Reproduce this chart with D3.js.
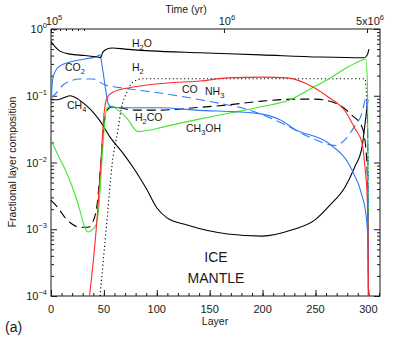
<!DOCTYPE html>
<html>
<head>
<meta charset="utf-8">
<script src="https://cdn.jsdelivr.net/npm/d3@7"></script>
<style>
  body { margin: 0; background: #fff; }
</style>
</head>
<body>
<div id="chart"></div>
<script>
// --- data: [layer, fractional composition] ---
const h2o = [[0,0.64],[4,0.54],[8,0.47],[18,0.42],[32,0.40],[44,0.38],[47,0.375],[49,0.45],[53,0.50],[58,0.52],[70,0.50],[94,0.47],[141,0.44],[198,0.41],[254,0.38],[296,0.37],[299,0.41],[300.5,0.50]];
const co2 = [[0.5,0.096],[1.4,0.17],[3.8,0.23],[8.5,0.28],[18,0.32],[32,0.355],[43.5,0.39],[46.3,0.41],[48.2,0.29],[51,0.145],[53.9,0.078],[56.7,0.068],[75,0.066],[103,0.066],[136,0.061],[193,0.055],[216,0.044],[231,0.031],[262,0.0196],[284.5,0.0077],[294,0.0032],[297.8,0.0016],[299.6,0.0007],[300.1,0.0001]];
const nh3 = [[0.5,0.093],[6.6,0.118],[11.3,0.145],[18,0.166],[27.4,0.178],[39.7,0.178],[46.3,0.16],[51,0.145],[55.8,0.14],[74.7,0.126],[103,0.11],[141,0.087],[193,0.057],[218,0.039],[247,0.023],[268.5,0.018],[278,0.022],[287,0.035],[294,0.055],[297.8,0.093],[299.2,0.043],[300.1,0.0001]];
const h2co = [[0,0.0027],[6.6,0.0021],[13.2,0.0015],[19.9,0.0012],[27.4,0.00107],[35,0.00107],[39.7,0.0013],[43.5,0.0023],[47.3,0.011],[50,0.036],[53,0.061],[57.7,0.068],[79.4,0.061],[103,0.061],[136,0.066],[167,0.073],[199.5,0.083],[230.6,0.089],[249.5,0.089],[268.5,0.078],[284.5,0.051],[294,0.034],[297.8,0.015],[299.6,0.0027],[300.1,0.0001]];
const ch4 = [[0,0.087],[6.6,0.087],[13.2,0.095],[18,0.10],[25.5,0.089],[34,0.07],[39.7,0.057],[46.3,0.042],[55.8,0.024],[68,0.0138],[81.3,0.0069],[90.7,0.0039],[100,0.0021],[109.7,0.00148],[128.6,0.00116],[167,0.00085],[199.5,0.00079],[228,0.00098],[249.5,0.00138],[263.7,0.0023],[278,0.0043],[287,0.0085],[294,0.017],[297.8,0.051],[299.6,0.087]];
const co = [[36.4,0.0001],[43.5,0.0014],[47.3,0.011],[50,0.051],[53,0.093],[58.6,0.114],[77.5,0.135],[109.7,0.155],[141,0.166],[167,0.185],[199.5,0.19],[224,0.185],[240,0.155],[262,0.096],[278,0.059],[287,0.033],[294,0.0196],[296.8,0.0085],[298.7,0.0035],[299.6,0.00098],[300.1,0.0001]];
const h2 = [[46.3,0.0001],[53,0.0014],[57.7,0.0092],[63.3,0.031],[66.2,0.061],[71.8,0.114],[77.5,0.16],[87,0.18],[296.8,0.18],[299.5,0.02],[300.1,0.0001]];
const ch3oh = [[0.5,0.021],[6.6,0.0129],[15,0.0069],[23,0.0032],[27.4,0.0019],[31.2,0.00116],[35,0.00091],[38.8,0.00098],[42.5,0.00116],[45.4,0.0023],[48.2,0.011],[51,0.043],[53,0.066],[57.7,0.07],[62.4,0.063],[71.8,0.046],[82.2,0.029],[112.5,0.036],[141,0.045],[169,0.055],[197.6,0.068],[226,0.087],[245,0.126],[264,0.185],[280.7,0.27],[294,0.34],[297.8,0.355],[299.2,0.12],[300.1,0.0001]];

// axis ticks
const layerMajor = [0, 50, 100, 150, 200, 250, 300];
const layerMinor = d3.range(0, 311, 10);
const decadeExp = [-4, -3, -2, -1, 0];
const timeTickLayers = [0, 163.5, 298.7];
const timeTickLabels = [["10", "5"], ["10", "6"], ["5x10", "6"]];
const timeMinorLayers = [3, 8.5, 14.2, 19.9, 25.5, 31.2];

function drawChart(containerId) {
    const width = 395, height = 341;
    const ink = "#1a1a1a";
    const font = "'Liberation Sans', Arial, sans-serif";

    const container = d3.select(containerId);
    container.selectAll("*").remove();

    const svg = container.append("svg")
        .attr("width", width).attr("height", height)
        .style("background", "white")
        .style("font-family", font);

    const x = d3.scaleLinear().domain([0, 311]).range([51, 380]);
    const y = d3.scaleLog().domain([1e-4, 1]).range([296, 29]);

    const yMinor = [];
    decadeExp.slice(0, -1).forEach(e => {
        for (let m = 2; m <= 9; m++) yMinor.push(m * Math.pow(10, e));
    });
    const yMajor = decadeExp.map(e => Math.pow(10, e));

    // axis styling: ticks only, labels are drawn separately
    const styleAxis = g => {
        g.select(".domain").remove();
        g.selectAll("line").attr("stroke", ink).attr("stroke-width", 1);
        g.selectAll("text").remove();
    };

    // bottom
    svg.append("g").attr("transform", "translate(0,296)")
        .call(d3.axisBottom(x).tickValues(layerMinor).tickSize(-3)).call(styleAxis);
    svg.append("g").attr("transform", "translate(0,296)")
        .call(d3.axisBottom(x).tickValues(layerMajor).tickSize(-6)).call(styleAxis);
    // top (time)
    svg.append("g").attr("transform", "translate(0,29)")
        .call(d3.axisTop(x).tickValues(timeMinorLayers).tickSize(-2)).call(styleAxis);
    svg.append("g").attr("transform", "translate(0,29)")
        .call(d3.axisTop(x).tickValues(timeTickLayers).tickSize(-4)).call(styleAxis);
    // left / right
    [[51, d3.axisLeft], [380, d3.axisRight]].forEach(([px, ax]) => {
        svg.append("g").attr("transform", `translate(${px},0)`)
            .call(ax(y).tickValues(yMinor).tickSize(-3)).call(styleAxis);
        svg.append("g").attr("transform", `translate(${px},0)`)
            .call(ax(y).tickValues(yMajor).tickSize(-6)).call(styleAxis);
    });

    // frame
    svg.append("rect")
        .attr("x", 51).attr("y", 29).attr("width", 329).attr("height", 267)
        .attr("fill", "none").attr("stroke", ink).attr("stroke-width", 1);

    // curves
    const series = [
        { data: ch4,   color: "#000000", dash: null },
        { data: h2co,  color: "#000000", dash: "9,5" },
        { data: h2,    color: "#000000", dash: "1.2,2.6" },
        { data: ch3oh, color: "#3ee82a", dash: null },
        { data: nh3,   color: "#2f78ff", dash: "9,5" },
        { data: co2,   color: "#2f78ff", dash: null },
        { data: co,    color: "#ff2a2a", dash: null },
        { data: h2o,   color: "#000000", dash: null }
    ];
    const line = d3.line()
        .x(d => x(d[0])).y(d => y(d[1]))
        .curve(d3.curveMonotoneX);

    const plot = svg.append("g");
    series.forEach(s => {
        plot.append("path")
            .attr("d", line(s.data))
            .attr("fill", "none")
            .attr("stroke", s.color)
            .attr("stroke-width", 1.1)
            .attr("stroke-dasharray", s.dash);
    });

    // tick labels
    const powLabel = (px, py, base, exp, anchor) => {
        const t = svg.append("text")
            .attr("x", px).attr("y", py)
            .attr("text-anchor", anchor)
            .style("font-size", "11px").style("fill", ink);
        t.append("tspan").text(base);
        t.append("tspan").attr("dy", -5).style("font-size", "7.5px").text(exp);
    };
    decadeExp.forEach(e => {
        powLabel(47, y(Math.pow(10, e)) + 4, "10", e === 0 ? "0" : "\u2212" + (-e), "end");
    });
    timeTickLayers.forEach((l, i) => {
        powLabel(x(l) + 3, 25, timeTickLabels[i][0], timeTickLabels[i][1], "middle");
    });
    layerMajor.forEach(v => {
        svg.append("text")
            .attr("x", x(v)).attr("y", 313)
            .attr("text-anchor", "middle")
            .style("font-size", "11px").style("fill", ink)
            .text(v);
    });

    // axis titles
    svg.append("text")
        .attr("x", 215).attr("y", 325)
        .attr("text-anchor", "middle")
        .style("font-size", "10.5px").style("fill", ink)
        .text("Layer");
    svg.append("text")
        .attr("x", 186).attr("y", 13)
        .attr("text-anchor", "middle")
        .style("font-size", "10.5px").style("fill", ink)
        .text("Time (yr)");
    svg.append("text")
        .attr("transform", "translate(16,162) rotate(-90)")
        .attr("text-anchor", "middle")
        .style("font-size", "10.5px").style("fill", ink)
        .text("Fractional layer composition");
    svg.append("text")
        .attr("x", 5).attr("y", 332)
        .style("font-size", "14px").style("fill", ink)
        .text("(a)");

    // species labels with subscripts
    const speciesLabel = (px, py, parts) => {
        const t = svg.append("text")
            .attr("x", px).attr("y", py)
            .style("font-size", "10.5px").style("fill", ink);
        parts.forEach(p => {
            if (/^\d$/.test(p)) {
                t.append("tspan").attr("dy", 3).style("font-size", "7.5px").text(p);
            } else {
                const ts = t.append("tspan").text(p);
                if (t.selectAll("tspan").size() > 1) ts.attr("dy", -3);
            }
        });
    };
    speciesLabel(132, 47, ["H", "2", "O"]);
    speciesLabel(65, 71, ["CO", "2"]);
    speciesLabel(132, 71, ["H", "2"]);
    speciesLabel(182, 93, ["CO"]);
    speciesLabel(205, 95, ["NH", "3"]);
    speciesLabel(67, 109, ["CH", "4"]);
    speciesLabel(135, 121, ["H", "2", "CO"]);
    speciesLabel(186, 132, ["CH", "3", "OH"]);

    svg.append("text")
        .attr("x", 216).attr("y", 262)
        .attr("text-anchor", "middle")
        .style("font-size", "14px").style("fill", ink)
        .text("ICE");
    svg.append("text")
        .attr("x", 216).attr("y", 283)
        .attr("text-anchor", "middle")
        .style("font-size", "14px").style("fill", ink)
        .text("MANTLE");
}

drawChart("#chart");
</script>
</body>
</html>
